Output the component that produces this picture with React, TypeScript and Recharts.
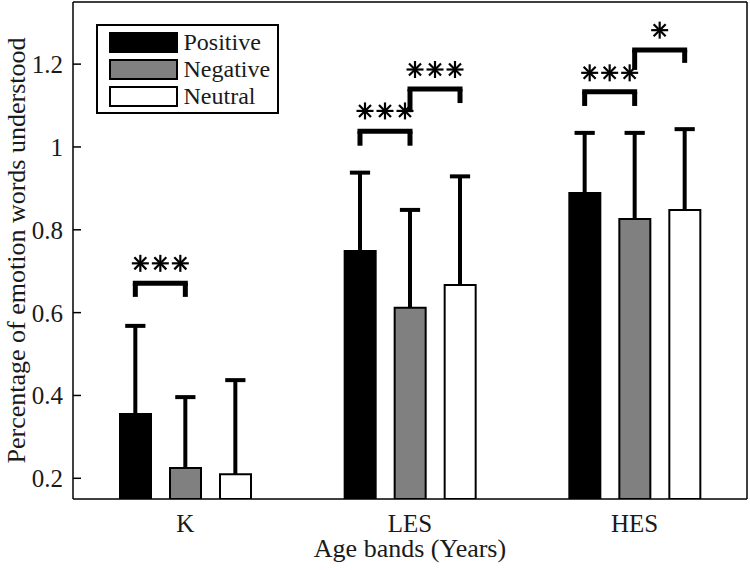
import {
  Bar,
  BarChart,
  Legend,
  ReferenceDot,
  ReferenceLine,
  XAxis,
  YAxis,
} from "recharts";

const BANDS = ["K", "LES", "HES"];
const POSITIVE = [0.355, 0.749, 0.889];
const NEGATIVE = [0.225, 0.612, 0.826];
const NEUTRAL = [0.21, 0.667, 0.848];
const POSITIVE_SD = [0.213, 0.189, 0.145];
const NEGATIVE_SD = [0.171, 0.236, 0.208];
const NEUTRAL_SD = [0.227, 0.262, 0.195];
const Y_TICKS = [0.2, 0.4, 0.6, 0.8, 1, 1.2];

// significance brackets: band index, series from/to, height of the
// horizontal, where each leg stops, star row height and star count
const BRACKETS = [
  { band: 0, from: 0, to: 1, top: 0.671, leftEnd: 0.638, rightEnd: 0.638, starY: 0.719, stars: 3 },
  { band: 1, from: 0, to: 1, top: 1.038, leftEnd: 1.003, rightEnd: 1.003, starY: 1.087, stars: 3 },
  { band: 1, from: 1, to: 2, top: 1.14, leftEnd: 1.084, rightEnd: 1.106, starY: 1.187, stars: 3 },
  { band: 2, from: 0, to: 1, top: 1.133, leftEnd: 1.099, rightEnd: 1.099, starY: 1.179, stars: 3 },
  { band: 2, from: 1, to: 2, top: 1.234, leftEnd: 1.186, rightEnd: 1.203, starY: 1.282, stars: 1 },
];

const SERIES = [
  { key: "positive", name: "Positive", fill: "#000000", values: POSITIVE, sd: POSITIVE_SD },
  { key: "negative", name: "Negative", fill: "#808080", values: NEGATIVE, sd: NEGATIVE_SD },
  { key: "neutral", name: "Neutral", fill: "#ffffff", values: NEUTRAL, sd: NEUTRAL_SD },
];

const data = BANDS.map((band, i) => {
  const row: Record<string, string | number> = { band, pos: i + 1 };
  SERIES.forEach((s) => (row[s.key] = s.values[i]));
  return row;
});

const FONT = '"Liberation Serif", "Times New Roman", serif';
const TEXT = "#1a1a1a";
const W = 750;
const H = 570;
const Y_DOMAIN = [0.15, 1.35];
const X_DOMAIN = [0.5, 3.5];
// offset of a bar centre from its band centre, in band units (50px of 224.7px)
const SLOT = 0.2226;
const CAP = 0.045;
const STAR_STEP = 0.089;

const barX = (band: number, series: number) => band + 1 + (series - 1) * SLOT;

function Star({ cx, cy }: { cx?: number; cy?: number }) {
  if (cx == null || cy == null) return null;
  const r = 8.5;
  const d = r * Math.SQRT1_2;
  return (
    <g stroke="#000" strokeWidth={2.2}>
      <line x1={cx - r} y1={cy} x2={cx + r} y2={cy} />
      <line x1={cx} y1={cy - r} x2={cx} y2={cy + r} />
      <line x1={cx - d} y1={cy - d} x2={cx + d} y2={cy + d} />
      <line x1={cx - d} y1={cy + d} x2={cx + d} y2={cy - d} />
    </g>
  );
}

function LegendBox() {
  return (
    <div
      style={{
        width: 183,
        height: 90,
        boxSizing: "border-box",
        border: "2px solid #000",
        background: "#fff",
        position: "relative",
        fontFamily: FONT,
        color: TEXT,
      }}
    >
      {SERIES.map((s, i) => (
        <div
          key={s.key}
          style={{
            position: "absolute",
            left: 10.5,
            top: 5.5 + i * 27.3,
            height: 21,
            display: "flex",
            alignItems: "center",
          }}
        >
          <div
            style={{
              width: 69,
              height: 21,
              boxSizing: "border-box",
              border: "2px solid #000",
              background: s.fill,
            }}
          />
          <span style={{ marginLeft: 6, fontSize: 24, lineHeight: "21px", whiteSpace: "nowrap" }}>
            {s.name}
          </span>
        </div>
      ))}
    </div>
  );
}

export default function App() {
  const axisLine = { stroke: "#000", strokeWidth: 1.5 };
  const tickLine = { stroke: "#000", strokeWidth: 1.5 };
  const tickStyle = { fill: TEXT, fontSize: 25, fontFamily: FONT };

  return (
    <div style={{ position: "absolute", left: 0, top: 0, width: W, height: H, background: "#fff" }}>
      <BarChart
        width={W}
        height={H}
        data={data}
        barGap={19}
        margin={{ top: 1, right: 2, bottom: 0, left: 0 }}
      >
        <XAxis
          dataKey="band"
          height={71}
          axisLine={axisLine}
          tickLine={false}
          tickSize={0}
          tickMargin={15}
          tick={tickStyle}
          label={{
            content: ({ viewBox }: any) => (
              <text
                x={viewBox.x + viewBox.width / 2}
                y={viewBox.y + 58}
                textAnchor="middle"
                fontSize={26}
                fontFamily={FONT}
                fill={TEXT}
              >
                Age bands (Years)
              </text>
            ),
          }}
        />
        <XAxis
          xAxisId="top"
          orientation="top"
          dataKey="band"
          height={1}
          axisLine={axisLine}
          tickLine={tickLine}
          tickSize={-8}
          tick={false}
        />
        <XAxis
          xAxisId="n"
          type="number"
          dataKey="pos"
          domain={X_DOMAIN}
          allowDataOverflow
          hide
        />
        <YAxis
          width={73}
          domain={Y_DOMAIN}
          ticks={Y_TICKS}
          allowDataOverflow
          axisLine={axisLine}
          tickLine={tickLine}
          tickSize={-8}
          tickMargin={18}
          tick={tickStyle}
          label={{
            content: ({ viewBox }: any) => {
              const x = 25;
              const y = viewBox.y + viewBox.height / 2;
              return (
                <text
                  x={x}
                  y={y}
                  transform={`rotate(-90, ${x}, ${y})`}
                  textAnchor="middle"
                  fontSize={26}
                  fontFamily={FONT}
                  fill={TEXT}
                >
                  Percentage of emotion words understood
                </text>
              );
            },
          }}
        />
        <YAxis
          yAxisId="r"
          orientation="right"
          width={1}
          domain={Y_DOMAIN}
          ticks={Y_TICKS}
          allowDataOverflow
          axisLine={axisLine}
          tickLine={tickLine}
          tickSize={-8}
          tick={false}
        />
        <Legend
          layout="horizontal"
          verticalAlign="middle"
          align="center"
          content={() => <LegendBox />}
          wrapperStyle={{ left: 96, top: 24, width: 183, height: 90 }}
        />
        {SERIES.map((s) => (
          <Bar
            key={s.key}
            dataKey={s.key}
            name={s.name}
            fill={s.fill}
            stroke="#000"
            strokeWidth={2}
            barSize={31}
            isAnimationActive={false}
          />
        ))}
        {SERIES.flatMap((s, si) =>
          BANDS.map((band, bi) => {
            const x = barX(bi, si);
            const top = s.values[bi] + s.sd[bi];
            return [
              <ReferenceLine
                key={`e-${s.key}-${band}`}
                xAxisId="n"
                segment={[
                  { x, y: s.values[bi] },
                  { x, y: top },
                ]}
                stroke="#000"
                strokeWidth={4}
              />,
              <ReferenceLine
                key={`c-${s.key}-${band}`}
                xAxisId="n"
                segment={[
                  { x: x - CAP, y: top },
                  { x: x + CAP, y: top },
                ]}
                stroke="#000"
                strokeWidth={4}
              />,
            ];
          })
        )}
        {BRACKETS.flatMap((b, i) => {
          const x1 = barX(b.band, b.from);
          const x2 = barX(b.band, b.to);
          const mid = (x1 + x2) / 2;
          const stars = Array.from({ length: b.stars }, (_, k) => mid + (k - (b.stars - 1) / 2) * STAR_STEP);
          return [
            <ReferenceLine
              key={`bh-${i}`}
              xAxisId="n"
              segment={[
                { x: x1, y: b.top },
                { x: x2, y: b.top },
              ]}
              stroke="#000"
              strokeWidth={5}
              strokeLinecap="square"
            />,
            <ReferenceLine
              key={`bl-${i}`}
              xAxisId="n"
              segment={[
                { x: x1, y: b.top },
                { x: x1, y: b.leftEnd },
              ]}
              stroke="#000"
              strokeWidth={5}
            />,
            <ReferenceLine
              key={`br-${i}`}
              xAxisId="n"
              segment={[
                { x: x2, y: b.top },
                { x: x2, y: b.rightEnd },
              ]}
              stroke="#000"
              strokeWidth={5}
            />,
            ...stars.map((sx, k) => (
              <ReferenceDot
                key={`s-${i}-${k}`}
                xAxisId="n"
                x={sx}
                y={b.starY}
                r={8}
                shape={(p: any) => <Star cx={p.cx} cy={p.cy} />}
              />
            )),
          ];
        })}
      </BarChart>
    </div>
  );
}
